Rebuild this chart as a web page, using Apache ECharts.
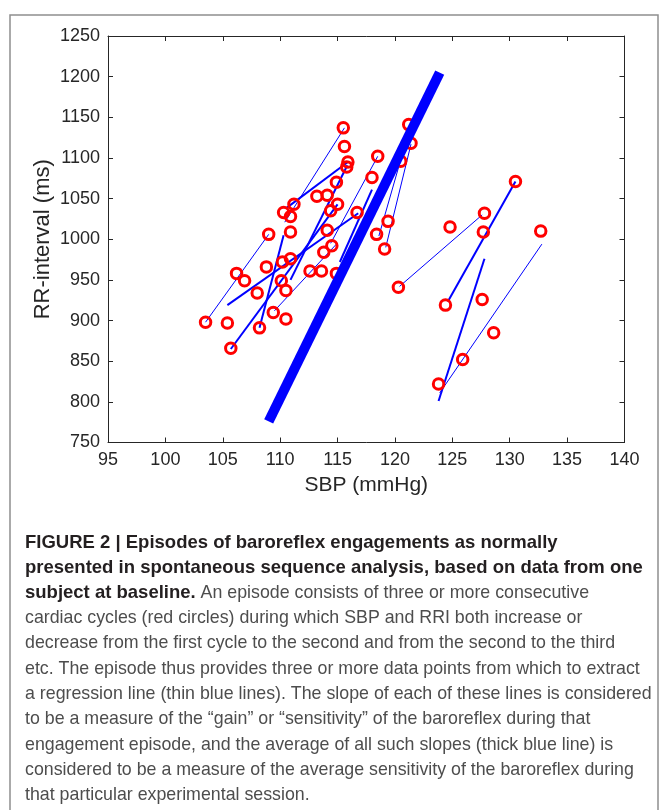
<!DOCTYPE html>
<html><head><meta charset="utf-8">
<script src="https://cdn.jsdelivr.net/npm/echarts@6/dist/echarts.min.js"></script>
<style>html,body{margin:0;padding:0;background:#fff}#c{width:660px;height:810px}</style>
</head><body><div id="c"></div>
<script>
// ---- data ----
const xMin = 95, xMax = 140, xStep = 5;
const yMin = 750, yMax = 1250, yStep = 50;
const xName = 'SBP (mmHg)';
const yName = 'RR-interval (ms)';

// cardiac cycles (red circles)
const sbp = [103.5,105.4,105.7,106.2,106.9,108.0,108.2,108.8,109.0,109.4,110.1,110.2,110.5,110.5,110.3,110.9,110.9,110.9,111.2,
  115.5,115.6,115.9,115.8,118.5,118.0,114.9,114.1,113.2,115.0,114.4,116.7,119.4,114.1,118.4,114.5,113.8,112.6,113.6,114.9,119.1,120.3,121.4,121.2,120.5,
  130.5,127.8,124.8,127.7,132.7,124.4,127.6,128.6,125.9,123.8];
const rri = [898,897,866,958,949,934,891,966,1006,910,949,972,937,902,1033,1028,1009,976,1043,
  1137,1114,1095,1089,1102,1076,1070,1054,1053,1043,1035,1033,1022,1011,1006,992,984,961,961,958,988,941,1118,1141,1096,
  1071,1032,1015,1009,1010,919,926,885,852,822];

// regression lines per episode [sbp1, rri1, sbp2, rri2]
const thinLines = [
  [103.5,898,109.0,1006],
  [109.5,912,114.9,994],
  [110.4,1021,115.6,1137],
  [118.5,1102,114.4,995],
  [121.3,1137,118.6,1004],
  [121.4,1117,119.2,990],
  [120.4,942,127.6,1030],
  [132.8,994,123.9,811]
];
const mediumLines = [
  [105.4,919,116.8,1032],
  [105.7,865,115.0,1043],
  [108.2,891,110.3,1005],
  [110.5,1038,115.9,1095],
  [110.9,950,115.85,1091],
  [118.0,1061,115.2,972],
  [130.5,1071,124.6,923],
  [127.8,976,123.8,801]
];
// average slope line
const meanLine = [109.0,776,123.9,1205];

// caption [bold part, regular part]
const caption = [
  ['FIGURE 2 | Episodes of baroreflex engagements as normally', ''],
  ['presented in spontaneous sequence analysis, based on data from one', ''],
  ['subject at baseline.', ' An episode consists of three or more consecutive'],
  ['', 'cardiac cycles (red circles) during which SBP and RRI both increase or'],
  ['', 'decrease from the first cycle to the second and from the second to the third'],
  ['', 'etc. The episode thus provides three or more data points from which to extract'],
  ['', 'a regression line (thin blue lines). The slope of each of these lines is considered'],
  ['', 'to be a measure of the \u201cgain\u201d or \u201csensitivity\u201d of the baroreflex during that'],
  ['', 'engagement episode, and the average of all such slopes (thick blue line) is'],
  ['', 'considered to be a measure of the average sensitivity of the baroreflex during'],
  ['', 'that particular experimental session.']
];

// ---- chart ----
const FONT = 'Liberation Sans, Arial, Helvetica, sans-serif';
const axisCol = '#262626';
const chart = echarts.init(document.getElementById('c'), null, {renderer: 'canvas'});

function seg(a) { return {coords: [[a[0], a[1]], [a[2], a[3]]]}; }

const capGraphics = caption.map((c, i) => {
  let t = '';
  if (c[0]) t += '{b|' + c[0] + '}';
  if (c[1]) t += '{n|' + c[1] + '}';
  return {
    type: 'text', left: 25, top: 533 + i * 25.35, silent: true,
    style: {
      text: t,
      rich: {
        b: {fontFamily: FONT, fontSize: 18.5, fontWeight: 'bold', fill: '#231f20', lineHeight: 24},
        n: {fontFamily: FONT, fontSize: 17.8, fill: '#4d4d4d', lineHeight: 24}
      }
    }
  };
});

const tickAxisCommon = {
  axisLine: {show: true, onZero: false, lineStyle: {color: axisCol, width: 1}},
  axisTick: {show: true, inside: true, length: 5, lineStyle: {color: axisCol, width: 1}},
  splitLine: {show: false}
};

chart.setOption({
  animation: false,
  backgroundColor: '#fff',
  grid: {left: 108, right: 35.5, top: 36, bottom: 367.5, containLabel: false},
  xAxis: [
    Object.assign({type: 'value', min: xMin, max: xMax, interval: xStep, position: 'bottom',
      axisLabel: {fontFamily: FONT, fontSize: 18, color: axisCol, margin: 9, formatter: v => String(v)},
      name: xName, nameLocation: 'middle', nameGap: 32, nameMoveOverlap: false,
      nameTextStyle: {fontFamily: FONT, fontSize: 21, color: axisCol}}, tickAxisCommon),
    Object.assign({type: 'value', min: xMin, max: xMax, interval: xStep, position: 'top',
      axisLabel: {show: false}}, tickAxisCommon)
  ],
  yAxis: [
    Object.assign({type: 'value', min: yMin, max: yMax, interval: yStep, position: 'left',
      axisLabel: {fontFamily: FONT, fontSize: 18, color: axisCol, margin: 8, formatter: v => String(v)},
      name: yName, nameLocation: 'middle', nameGap: 54, nameMoveOverlap: false,
      nameTextStyle: {fontFamily: FONT, fontSize: 22, color: axisCol}}, tickAxisCommon),
    Object.assign({type: 'value', min: yMin, max: yMax, interval: yStep, position: 'right',
      axisLabel: {show: false}}, tickAxisCommon)
  ],
  graphic: [
    {type: 'rect', silent: true, z: -1, shape: {x: 10, y: 15, width: 648, height: 830},
      style: {fill: 'none', stroke: '#8f8f8f', lineWidth: 1.5}}
  ].concat(capGraphics),
  series: [
    {type: 'lines', coordinateSystem: 'cartesian2d', xAxisIndex: 0, yAxisIndex: 0, z: 2, silent: true,
      data: thinLines.map(seg), lineStyle: {color: '#0000ff', width: 1, opacity: 1}},
    {type: 'lines', coordinateSystem: 'cartesian2d', xAxisIndex: 0, yAxisIndex: 0, z: 2, silent: true,
      data: mediumLines.map(seg), lineStyle: {color: '#0000ff', width: 2, opacity: 1}},
    {type: 'scatter', xAxisIndex: 0, yAxisIndex: 0, z: 3, silent: true,
      data: sbp.map((x, i) => [x, rri[i]]), symbol: 'circle', symbolSize: 10.5,
      itemStyle: {color: 'rgba(255,255,255,0)', borderColor: '#ff0000', borderWidth: 3, opacity: 1}},
    {type: 'lines', coordinateSystem: 'cartesian2d', xAxisIndex: 0, yAxisIndex: 0, z: 4, silent: true,
      data: [seg(meanLine)], lineStyle: {color: '#0000ff', width: 10, opacity: 1, cap: 'butt'}}
  ]
});
</script></body></html>
